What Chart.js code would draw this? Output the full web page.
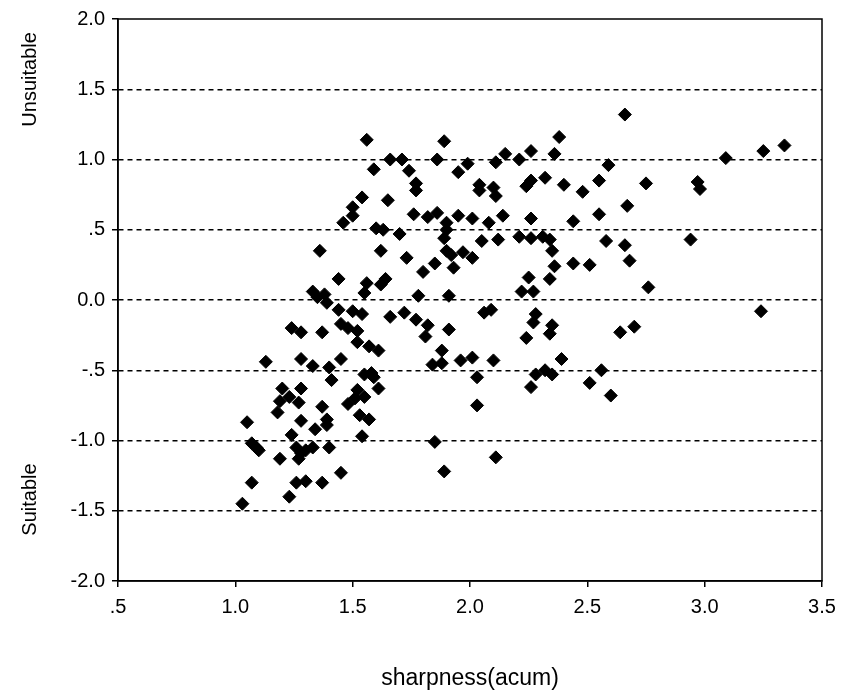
<!DOCTYPE html>
<html>
<head>
<meta charset="utf-8">
<script src="https://cdn.jsdelivr.net/npm/chart.js@4.4.1/dist/chart.umd.min.js"></script>
<style>
  html, body { margin: 0; padding: 0; background: #fff; }
  #wrap { width: 846px; height: 700px; }
</style>
</head>
<body>
<div id="wrap"><canvas id="chart" width="846" height="700"></canvas></div>
<script>
const xTickValues = [0.5, 1.0, 1.5, 2.0, 2.5, 3.0, 3.5];
const xTickLabels = ['.5', '1.0', '1.5', '2.0', '2.5', '3.0', '3.5'];
const yTickValues = [-2.0, -1.5, -1.0, -0.5, 0.0, 0.5, 1.0, 1.5, 2.0];
const yTickLabels = ['-2.0', '-1.5', '-1.0', '-.5', '0.0', '.5', '1.0', '1.5', '2.0'];

// sharpness (acum) of each sample
const sharpness = [
  1.56, 1.89, 2.38, 2.66, 1.66, 1.71, 1.86, 1.59, 1.74, 1.77,
  1.77, 1.95, 1.99, 2.11, 2.15, 2.21, 2.26, 2.36, 2.59, 3.09,
  3.25, 3.34, 2.04, 2.04, 2.10, 2.11, 2.24, 2.26, 2.32, 2.40,
  2.48, 2.55, 2.75, 2.97, 2.98, 1.54, 1.65, 1.50, 1.50, 1.46,
  1.76, 1.82, 1.86, 1.90, 1.90, 1.95, 2.01, 2.08, 2.14, 2.26,
  2.44, 2.55, 2.67, 1.60, 1.63, 1.70, 1.36, 1.62, 1.73, 1.80,
  1.85, 1.89, 1.90, 1.92, 1.93, 1.97, 2.01, 2.05, 2.12, 2.21,
  2.26, 2.31, 2.34, 2.35, 2.58, 2.66, 2.68, 2.94, 2.36, 2.44,
  2.51, 2.34, 2.25, 2.22, 2.27, 2.76, 1.44, 1.56, 1.55, 1.64,
  1.62, 1.33, 1.35, 1.38, 1.39, 1.44, 1.50, 1.54, 1.66, 1.72,
  1.77, 1.78, 1.91, 2.06, 2.09, 2.28, 2.27, 2.35, 2.34, 2.24,
  1.82, 1.81, 1.91, 3.24, 2.70, 2.64, 1.24, 1.28, 1.37, 1.45,
  1.48, 1.52, 1.52, 1.57, 1.61, 1.13, 1.28, 1.33, 1.40, 1.41,
  1.45, 1.55, 1.58, 1.59, 1.61, 1.52, 1.48, 1.51, 1.55, 1.53,
  1.57, 1.54, 1.20, 1.19, 1.18, 1.23, 1.28, 1.27, 1.28, 1.34,
  1.37, 1.39, 1.39, 1.05, 1.07, 1.09, 1.10, 1.19, 1.24, 1.26,
  1.28, 1.27, 1.30, 1.33, 1.40, 1.03, 1.07, 1.23, 1.26, 1.30,
  1.37, 1.45, 1.88, 1.84, 1.88, 1.96, 2.01, 2.10, 2.03, 2.03,
  2.28, 2.32, 2.35, 2.26, 2.39, 2.56, 2.51, 2.60, 1.85, 1.89,
  2.11
];

// rating (negative = suitable, positive = unsuitable)
const rating = [
  1.14, 1.13, 1.16, 1.32, 1.00, 1.00, 1.00, 0.93, 0.92, 0.83,
  0.78, 0.91, 0.97, 0.98, 1.04, 1.00, 1.06, 1.04, 0.96, 1.01,
  1.06, 1.10, 0.82, 0.78, 0.80, 0.74, 0.81, 0.85, 0.87, 0.82,
  0.77, 0.85, 0.83, 0.84, 0.79, 0.73, 0.71, 0.66, 0.60, 0.55,
  0.61, 0.59, 0.62, 0.55, 0.50, 0.60, 0.58, 0.55, 0.60, 0.58,
  0.56, 0.61, 0.67, 0.51, 0.50, 0.47, 0.35, 0.35, 0.30, 0.20,
  0.26, 0.44, 0.35, 0.32, 0.23, 0.34, 0.30, 0.42, 0.43, 0.45,
  0.44, 0.45, 0.43, 0.35, 0.42, 0.39, 0.28, 0.43, 0.24, 0.26,
  0.25, 0.15, 0.16, 0.06, 0.06, 0.09, 0.15, 0.12, 0.05, 0.15,
  0.11, 0.06, 0.02, 0.04, -0.02, -0.07, -0.08, -0.10, -0.12, -0.09,
  -0.14, 0.03, 0.03, -0.09, -0.07, -0.10, -0.16, -0.18, -0.24, -0.27,
  -0.18, -0.26, -0.21, -0.08, -0.19, -0.23, -0.20, -0.23, -0.23, -0.17,
  -0.20, -0.22, -0.30, -0.33, -0.36, -0.44, -0.42, -0.47, -0.48, -0.57,
  -0.42, -0.53, -0.52, -0.55, -0.63, -0.64, -0.74, -0.70, -0.69, -0.82,
  -0.85, -0.97, -0.63, -0.72, -0.80, -0.69, -0.63, -0.73, -0.86, -0.92,
  -0.76, -0.85, -0.89, -0.87, -1.02, -1.05, -1.07, -1.13, -0.96, -1.05,
  -1.09, -1.13, -1.07, -1.05, -1.05, -1.45, -1.30, -1.40, -1.30, -1.29,
  -1.30, -1.23, -0.36, -0.46, -0.45, -0.43, -0.41, -0.43, -0.55, -0.75,
  -0.53, -0.50, -0.53, -0.62, -0.42, -0.50, -0.59, -0.68, -1.01, -1.22,
  -1.12
];

const TICK_FONT = { family: '"Liberation Sans", Arial, sans-serif', size: 20 };
const LABEL_FONT = '20px "Liberation Sans", Arial, sans-serif';

const points = sharpness.map((x, i) => ({ x, y: rating[i] }));

// frame round the plot and the two labels on the left side
const framePlugin = {
  id: 'frame',
  afterDraw(chart) {
    const { ctx, chartArea: a, scales } = chart;
    ctx.save();
    ctx.strokeStyle = '#000';
    ctx.lineWidth = 1.5;
    ctx.strokeRect(a.left, a.top, a.right - a.left, a.bottom - a.top);
    ctx.fillStyle = '#000';
    ctx.font = LABEL_FONT;
    ctx.textAlign = 'center';
    ctx.textBaseline = 'middle';
    const side = [['Unsuitable', 1.57], ['Suitable', -1.42]];
    side.forEach(([txt, v]) => {
      ctx.save();
      ctx.translate(30, scales.y.getPixelForValue(v));
      ctx.rotate(-Math.PI / 2);
      ctx.fillText(txt, 0, 0);
      ctx.restore();
    });
    ctx.restore();
  },
};

new Chart(document.getElementById('chart'), {
  type: 'scatter',
  data: {
    datasets: [{
      data: points,
      pointStyle: 'rectRot',
      pointRadius: 6.5,
      borderWidth: 1,
      borderColor: '#000',
      backgroundColor: '#000',
    }],
  },
  options: {
    responsive: false,
    animation: false,
    events: [],
    layout: { padding: { top: 17, right: 24, left: 0, bottom: 0 } },
    plugins: { legend: { display: false }, tooltip: { enabled: false } },
    scales: {
      x: {
        type: 'linear',
        min: 0.5,
        max: 3.5,
        afterBuildTicks: (s) => { s.ticks = xTickValues.map((v) => ({ value: v })); },
        afterFit: (s) => { s.height = 119; },
        ticks: {
          color: '#000',
          font: TICK_FONT,
          padding: 8,
          maxRotation: 0,
          callback: (v, i) => xTickLabels[i],
        },
        grid: { drawOnChartArea: false, color: '#000', tickLength: 6, lineWidth: 1.5 },
        border: { display: true, color: '#000', width: 1.5 },
        title: {
          display: true,
          text: 'sharpness(acum)',
          color: '#000',
          font: { family: '"Liberation Sans", Arial, sans-serif', size: 23 },
          padding: { top: 0, bottom: 8 },
        },
      },
      y: {
        type: 'linear',
        min: -2,
        max: 2,
        afterBuildTicks: (s) => { s.ticks = yTickValues.map((v) => ({ value: v })); },
        afterFit: (s) => { s.width = 118; },
        ticks: {
          color: '#000',
          font: TICK_FONT,
          padding: 7,
          callback: (v, i) => yTickLabels[i],
        },
        grid: {
          color: (c) => (c.tick && Math.abs(c.tick.value) === 2 ? 'rgba(0,0,0,0)' : '#000'),
          tickColor: '#000',
          tickLength: 6,
          lineWidth: 1.5,
        },
        border: { display: true, color: '#000', width: 1.5, dash: [5, 4] },
      },
    },
  },
  plugins: [framePlugin],
});
</script>
</body>
</html>
